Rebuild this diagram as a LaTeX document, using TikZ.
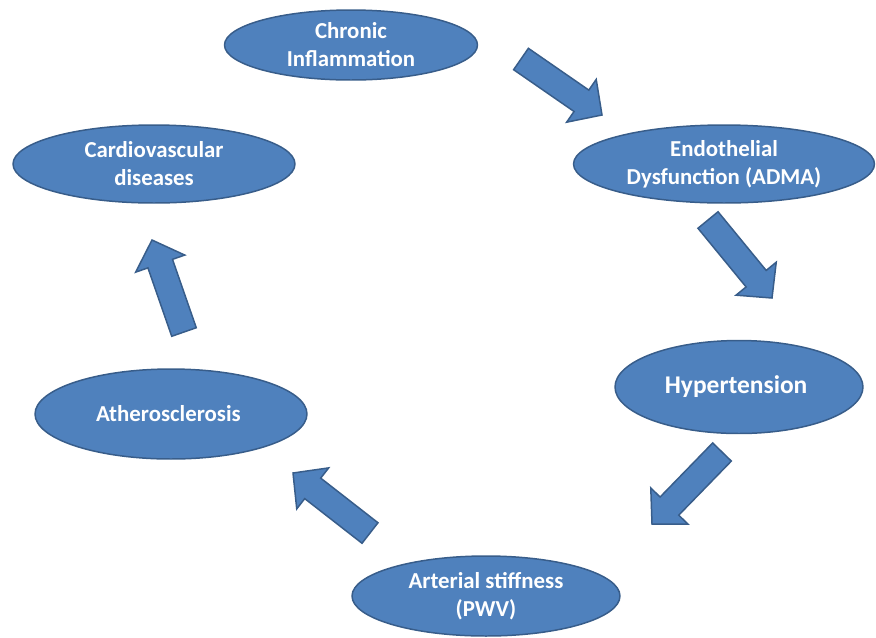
\documentclass[tikz,border=0pt]{standalone}
\usepackage{fontspec}
\setmainfont{Carlito}
\usetikzlibrary{positioning, shapes.geometric, calc}
\definecolor{cFill}{HTML}{4F81BD}
\definecolor{cEdge}{HTML}{385D8A}

% block arrow: tail centre #1, tip #2
\newcommand{\cyclearrow}[2]{%
    \coordinate (#1h) at ($(#2)!0.5cm!(#1)$);
    \draw[barr]
        ($(#1)!0.26cm!90:(#2)$) -- ($(#1h)!0.26cm!90:(#2)$)
        -- ($(#1h)!0.52cm!90:(#2)$) -- (#2)
        -- ($(#1h)!0.52cm!-90:(#2)$) -- ($(#1h)!0.26cm!-90:(#2)$)
        -- ($(#1)!0.26cm!-90:(#2)$) -- cycle;
}

\begin{document}
\begin{tikzpicture}[
    x=0.02cm, y=-0.02cm,
    % --- Node styles ---
    cyc/.style={
        ellipse, draw=cEdge, fill=cFill, line width=0.85pt,
        inner sep=0pt, align=center, text=white,
        font=\fontsize{13}{16}\selectfont\bfseries
    },
    % --- Arrow styles ---
    barr/.style={draw=cEdge, fill=cFill, line width=0.85pt, line join=miter},
]

\useasboundingbox (0,0) rectangle (876,637);

% =============================================
% STAGES OF THE CYCLE
% =============================================

\node[cyc, minimum width=5.06cm, minimum height=1.4cm] (chr) at (351,45) {
    Chronic\\Inflammation
};

\node[cyc, minimum width=6.02cm, minimum height=1.56cm] (endo) at (724,164) {
    Endothelial\\Dysfunction (ADMA)
};

\node[cyc, minimum width=4.96cm, minimum height=1.86cm,
      font=\fontsize{14.5}{17}\selectfont\bfseries] (hyp) at (739,387) {
    Hypertension
};

\node[cyc, minimum width=5.36cm, minimum height=1.6cm] (art) at (486,596) {
    Arterial stiffness\\(PWV)
};

\node[cyc, minimum width=5.44cm, minimum height=1.8cm] (ath) at (171,414) {
    Atherosclerosis
};

\node[cyc, minimum width=5.64cm, minimum height=1.56cm] (cvd) at (154,164) {
    Cardiovascular\\diseases
};

% =============================================
% BLOCK ARROWS (tail -> tip)
% =============================================

\coordinate (a1s) at (521,59);  \coordinate (a1e) at (602,115);
\coordinate (a2s) at (708,220); \coordinate (a2e) at (772,298);
\coordinate (a3s) at (722,452); \coordinate (a3e) at (652,524);
\coordinate (a4s) at (370,533); \coordinate (a4e) at (293,473);
\coordinate (a5s) at (184,332); \coordinate (a5e) at (152,240);

\cyclearrow{a1s}{a1e}
\cyclearrow{a2s}{a2e}
\cyclearrow{a3s}{a3e}
\cyclearrow{a4s}{a4e}
\cyclearrow{a5s}{a5e}

\end{tikzpicture}
\end{document}
